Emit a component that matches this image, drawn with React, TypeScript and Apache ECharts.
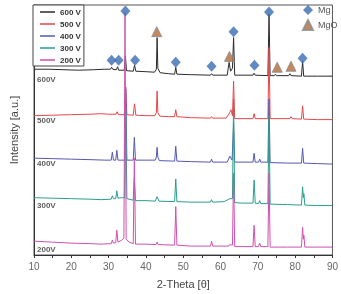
import { useEffect, useRef } from "react";
import * as echarts from "echarts";

const seriesNames = ["600 V", "500 V", "400 V", "300 V", "200 V"];
const seriesLabels = ["600V", "500V", "400V", "300V", "200V"];
const seriesColors = ["#2b2b2b", "#e8454a", "#5457b0", "#2a9d8c", "#d24fae"];

const xTicks = [10, 20, 30, 40, 50, 60, 70, 80, 90];

const s600: number[][] = [
  [10, 188], [14, 188], [18, 187.5], [22, 187], [26, 187.5], [29, 188], [30.5, 188], [30.8, 190], [31.1, 188],
  [32.1, 187.5], [32.4, 190.5], [32.7, 187], [34.2, 187], [34.5, 201], [34.8, 186.5], [36.6, 186], [36.95, 192],
  [37.3, 186], [40, 185.5], [42.3, 185], [42.8, 188], [43.0, 220], [43.2, 189], [43.8, 184.5], [46, 183.5],
  [47.7, 183], [48.0, 190], [48.3, 183], [52, 182.5], [57.3, 182], [57.6, 183.5], [57.9, 182], [61.8, 182],
  [62.3, 195], [62.7, 186], [63.2, 189], [63.5, 220], [63.8, 182], [68.7, 182], [69.0, 184], [69.3, 182],
  [72.7, 181.5], [73.0, 244], [73.3, 181.5], [74.4, 181.5], [74.7, 183], [75.0, 181.5], [78.3, 181.5],
  [78.6, 183.5], [78.9, 181.5], [81.7, 181], [82.0, 196], [82.3, 181], [86, 181], [90, 181],
];

const s500: number[][] = [
  [10, 141], [15, 141.5], [20, 142], [25, 142.5], [28, 143], [30, 142.5], [32.0, 142.5], [32.3, 145], [32.6, 142],
  [34.2, 142], [34.6, 170], [34.9, 142], [36.6, 141.5], [36.95, 153], [37.3, 141.5], [40, 141], [42.4, 141],
  [42.8, 144], [43.0, 166], [43.2, 144], [43.7, 140.5], [46, 140], [47.7, 140], [48.0, 147], [48.3, 140],
  [52, 139], [57.3, 138.5], [57.6, 140], [57.9, 138.5], [61.5, 138.5], [62.3, 143], [62.8, 147], [63.2, 141],
  [63.5, 176], [63.8, 138], [68.7, 138], [69.0, 143], [69.3, 138], [72.7, 138], [73.0, 210], [73.3, 138],
  [78.6, 138], [78.9, 140], [79.2, 138], [81.7, 137.5], [82.0, 151], [82.3, 137.5], [86, 137], [90, 137],
];

const s400: number[][] = [
  [10, 98], [15, 97.5], [20, 97], [25, 96.5], [29, 96], [30.7, 96], [31.0, 104], [31.3, 96], [31.9, 96],
  [32.2, 106], [32.5, 96], [34.3, 96], [34.6, 168], [34.9, 96], [36.6, 96], [36.9, 119], [37.2, 96], [40, 96],
  [42.5, 96], [42.8, 99], [43.0, 109], [43.2, 99], [43.6, 95.5], [47.7, 95], [48.0, 110], [48.3, 95],
  [52, 94.5], [57.3, 94], [57.6, 97], [57.9, 94], [61.8, 94], [62.5, 100], [63.1, 96], [63.5, 133], [63.8, 94],
  [68.7, 94], [69.0, 103], [69.3, 94], [70.2, 94], [70.5, 97], [70.8, 94], [72.7, 94], [73.0, 158],
  [73.3, 93.5], [78, 93], [81.7, 93], [82.0, 108], [82.3, 93], [86, 92.5], [90, 92],
];

const s300: number[][] = [
  [10, 58], [15, 57.5], [20, 57], [25, 56.5], [28, 56], [30.7, 56.5], [31.0, 60], [31.3, 57], [31.9, 57],
  [32.2, 65], [32.5, 57.5], [33.5, 58], [34.3, 58], [34.6, 146], [34.9, 57], [36.0, 56], [36.6, 55.5],
  [36.9, 78], [37.2, 55], [40, 55], [42.5, 54.5], [43.0, 59], [43.5, 54.5], [47.7, 54], [48.0, 77], [48.3, 54],
  [52, 53.5], [57.3, 53.5], [57.6, 56], [57.9, 53.5], [61, 54], [62.5, 57], [63.2, 57], [63.5, 158],
  [63.8, 53], [66, 52.5], [68.7, 52.5], [69.0, 76], [69.3, 52.5], [70.2, 52], [70.5, 55], [70.8, 52],
  [72.7, 52], [73.0, 141], [73.3, 51.5], [78, 51], [81.7, 50.5], [82.0, 69], [82.2, 58], [82.35, 62],
  [82.6, 50.5], [86, 50], [90, 50],
];

const s200: number[][] = [
  [10, 14], [15, 13], [20, 12], [25, 11.5], [28, 11], [30.7, 11.5], [31.0, 15], [31.3, 12], [31.9, 12.5],
  [32.2, 25], [32.5, 13], [33.5, 15], [34.1, 17], [34.4, 245], [34.7, 16], [35.5, 13], [36.6, 11.5],
  [36.9, 98], [37.2, 11], [40, 11], [42.7, 10.5], [43.0, 13], [43.3, 10.5], [47.7, 10], [48.0, 49], [48.3, 10],
  [52, 9], [57.3, 9], [57.6, 14], [57.9, 9], [62.2, 9], [62.5, 10.5], [63.2, 10], [63.5, 83], [63.8, 8.5],
  [68.7, 8.5], [69.0, 30], [69.3, 8.5], [70.2, 8.5], [70.5, 12], [70.8, 8.5], [72.7, 8.5], [73.0, 83],
  [73.3, 8], [78, 8], [81.7, 8], [82.0, 28], [82.2, 16], [82.35, 20], [82.6, 8], [86, 8], [90, 8],
];

const seriesData = [s600, s500, s400, s300, s200];

const mgPeaks: number[][] = [
  [30.8, 197], [32.7, 197], [34.5, 247], [37.1, 197], [48.0, 195], [57.6, 191], [63.5, 226], [69.1, 192],
  [73.0, 246], [82.0, 199],
];
const mgoPeaks: number[][] = [[42.9, 226], [62.4, 201], [75.2, 190], [78.9, 191]];

const labelPos: number[][] = [[10.8, 178], [10.8, 136], [10.8, 93], [10.8, 50], [10.8, 6]];

const FONT = "Liberation Sans, Arial, sans-serif";

export default function App() {
  const ref = useRef<HTMLDivElement>(null);
  useEffect(() => {
    const chart = echarts.init(ref.current!, null, { renderer: "svg" });
    const lineSeries = seriesNames.map((name, i) => ({
      name,
      type: "line",
      data: seriesData[i],
      symbol: "none",
      showSymbol: false,
      silent: true,
      lineStyle: { width: 1, color: seriesColors[i] },
      itemStyle: { color: seriesColors[i] },
      z: 2 + i * 0.1,
    }));
    chart.setOption({
      animation: false,
      textStyle: { fontFamily: FONT },
      grid: { left: 33, right: 5, top: 5, bottom: 36, show: true, borderColor: "#555", borderWidth: 1 },
      xAxis: {
        type: "value",
        min: xTicks[0],
        max: xTicks[xTicks.length - 1],
        interval: 10,
        axisLine: { show: true, lineStyle: { color: "#333", width: 1 } },
        axisTick: { show: true, length: 3, lineStyle: { color: "#333" } },
        minorTick: { show: true, splitNumber: 2, length: 3, lineStyle: { color: "#333" } },
        axisLabel: { color: "#666", fontSize: 10, margin: 6, fontFamily: FONT },
        splitLine: { show: false },
        name: "2-Theta [θ]",
        nameLocation: "middle",
        nameGap: 23,
        nameTextStyle: { fontSize: 11, color: "#444", fontFamily: FONT },
      },
      yAxis: {
        type: "value",
        min: 0,
        max: 253,
        axisLine: { show: true, lineStyle: { color: "#333", width: 1 } },
        axisTick: { show: false },
        axisLabel: { show: false },
        splitLine: { show: false },
        name: "Intensity [a.u.]",
        nameLocation: "middle",
        nameRotate: 90,
        nameGap: 15,
        nameTextStyle: { fontSize: 11, color: "#444", fontFamily: FONT },
      },
      legend: [
        {
          data: seriesNames,
          orient: "vertical",
          left: 33,
          top: 5,
          icon: "path://M0,0H20V2H0Z",
          itemWidth: 15,
          itemHeight: 8,
          itemGap: 4,
          padding: [3, 3, 2, 7],
          borderColor: "#444",
          borderWidth: 1,
          borderRadius: 0,
          backgroundColor: "#fff",
          selectedMode: false,
          textStyle: { fontSize: 8, fontWeight: "bold", color: "#333", fontFamily: FONT },
        },
        {
          data: ["Mg", "MgO"],
          orient: "vertical",
          left: 302,
          top: 5,
          itemWidth: 10,
          itemHeight: 10,
          itemGap: 4,
          padding: 0,
          selectedMode: false,
          textStyle: { fontSize: 9, color: "#555", fontFamily: FONT },
        },
      ],
      series: [
        ...lineSeries,
        {
          name: "Mg",
          type: "scatter",
          data: mgPeaks,
          symbol: "diamond",
          symbolSize: [10, 11],
          silent: true,
          itemStyle: { color: "#3b6db3" },
          z: 10,
        },
        {
          name: "MgO",
          type: "scatter",
          data: mgoPeaks,
          symbol: "triangle",
          symbolSize: [10, 10],
          silent: true,
          itemStyle: { color: "#b46a38", borderColor: "#8a8a8a", borderWidth: 1 },
          z: 10,
        },
        {
          name: "labels",
          type: "scatter",
          data: labelPos.map((p, i) => ({ name: seriesLabels[i], value: p })),
          symbolSize: 0,
          silent: true,
          label: {
            show: true,
            formatter: "{b}",
            position: "right",
            distance: 0,
            fontSize: 8,
            fontWeight: "bold",
            color: "#333",
            fontFamily: FONT,
          },
          z: 11,
        },
      ],
    });
    return () => chart.dispose();
  }, []);
  return <div ref={ref} style={{ position: "fixed", left: 0, top: 0, width: 341, height: 294 }} />;
}
